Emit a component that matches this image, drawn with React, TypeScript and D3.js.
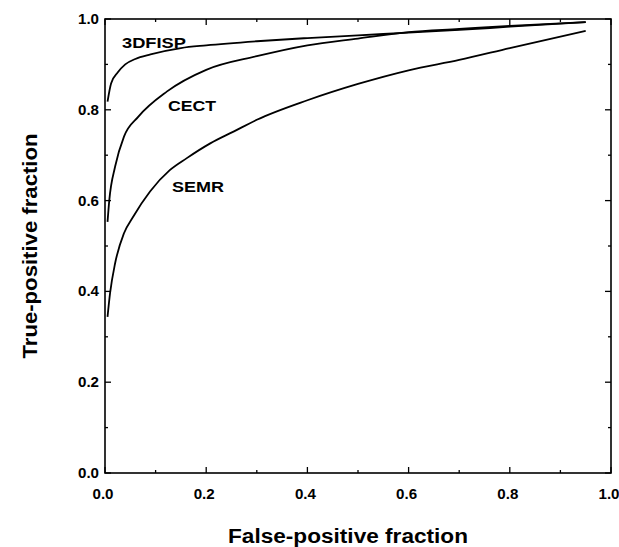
import { useRef, useEffect } from "react";
import * as d3 from "d3";

// ROC curves: [false-positive fraction, true-positive fraction]
const fisp3d: [number, number][] = [
  [0.005, 0.818], [0.012, 0.858], [0.025, 0.882], [0.04, 0.9], [0.06, 0.912],
  [0.09, 0.922], [0.15, 0.936], [0.2, 0.942], [0.3, 0.951], [0.4, 0.958],
  [0.5, 0.964], [0.6, 0.97], [0.7, 0.976], [0.8, 0.983], [0.95, 0.993],
];
const cect: [number, number][] = [
  [0.005, 0.553], [0.0085, 0.601], [0.02, 0.675], [0.0375, 0.741], [0.066, 0.785],
  [0.122, 0.84], [0.2, 0.888], [0.3, 0.918], [0.4, 0.942], [0.5, 0.957],
  [0.6, 0.971], [0.7, 0.978], [0.8, 0.985], [0.95, 0.993],
];
const semr: [number, number][] = [
  [0.005, 0.344], [0.01, 0.396], [0.02, 0.462], [0.0375, 0.528], [0.056, 0.565],
  [0.089, 0.62], [0.128, 0.667], [0.161, 0.693], [0.208, 0.726], [0.254, 0.752],
  [0.3, 0.778], [0.4, 0.821], [0.5, 0.857], [0.6, 0.887], [0.7, 0.91],
  [0.8, 0.936], [0.95, 0.974],
];

const curveNames = ["3DFISP", "CECT", "SEMR"];
const majorTicks = [0, 0.2, 0.4, 0.6, 0.8, 1.0];
const minorTicks = [0.1, 0.3, 0.5, 0.7, 0.9];

const FONT = "'Liberation Sans', Arial, Helvetica, sans-serif";

function App() {
  const svgRef = useRef<SVGSVGElement>(null);

  useEffect(() => {
    const w = 619;
    const h = 547;
    const svg = d3.select(svgRef.current).attr("width", w).attr("height", h);
    svg.selectAll("*").remove();

    // plot frame
    const left = 105;
    const right = 611;
    const top = 19;
    const bottom = 473;

    const x = d3.scaleLinear().domain([0, 1]).range([left, right]);
    const y = d3.scaleLinear().domain([0, 1]).range([bottom, top]);

    // ticks on all four sides, pointing inward
    const g = svg.append("g").attr("stroke", "#000").attr("stroke-width", 1.3);
    const addTicks = (vals: number[], len: number) => {
      vals.forEach((v) => {
        g.append("line").attr("x1", x(v)).attr("x2", x(v)).attr("y1", bottom).attr("y2", bottom - len);
        g.append("line").attr("x1", x(v)).attr("x2", x(v)).attr("y1", top).attr("y2", top + len);
        g.append("line").attr("x1", left).attr("x2", left + len).attr("y1", y(v)).attr("y2", y(v));
        g.append("line").attr("x1", right).attr("x2", right - len).attr("y1", y(v)).attr("y2", y(v));
      });
    };
    addTicks(majorTicks, 6);
    addTicks(minorTicks, 3);

    svg
      .append("rect")
      .attr("x", left)
      .attr("y", top)
      .attr("width", right - left)
      .attr("height", bottom - top)
      .attr("fill", "none")
      .attr("stroke", "#000")
      .attr("stroke-width", 1.6);

    // tick labels
    const fmt = d3.format(".1f");
    svg
      .append("g")
      .selectAll("text")
      .data(majorTicks)
      .enter()
      .append("text")
      .attr("x", (d) => x(d) - 2)
      .attr("y", 499)
      .attr("text-anchor", "middle")
      .attr("font-family", FONT)
      .attr("font-weight", "bold")
      .attr("font-size", 14)
      .attr("textLength", 21)
      .attr("lengthAdjust", "spacingAndGlyphs")
      .text((d) => fmt(d));

    svg
      .append("g")
      .selectAll("text")
      .data(majorTicks)
      .enter()
      .append("text")
      .attr("x", 99)
      .attr("y", (d) => y(d) + 5)
      .attr("text-anchor", "end")
      .attr("font-family", FONT)
      .attr("font-weight", "bold")
      .attr("font-size", 14)
      .attr("textLength", 21)
      .attr("lengthAdjust", "spacingAndGlyphs")
      .text((d) => fmt(d));

    // axis titles
    svg
      .append("text")
      .attr("x", 348)
      .attr("y", 543)
      .attr("text-anchor", "middle")
      .attr("font-family", FONT)
      .attr("font-weight", "bold")
      .attr("font-size", 19.5)
      .attr("textLength", 240)
      .attr("lengthAdjust", "spacingAndGlyphs")
      .text("False-positive fraction");

    svg
      .append("text")
      .attr("transform", "translate(37, 246) rotate(-90)")
      .attr("text-anchor", "middle")
      .attr("font-family", FONT)
      .attr("font-weight", "bold")
      .attr("font-size", 21)
      .attr("textLength", 225)
      .attr("lengthAdjust", "spacingAndGlyphs")
      .text("True-positive fraction");

    // curves
    const line = d3
      .line<[number, number]>()
      .x((d) => x(d[0]))
      .y((d) => y(d[1]))
      .curve(d3.curveMonotoneX);

    svg
      .append("g")
      .selectAll("path")
      .data([fisp3d, cect, semr])
      .enter()
      .append("path")
      .attr("d", (d) => line(d))
      .attr("fill", "none")
      .attr("stroke", "#000")
      .attr("stroke-width", 1.8);

    // curve labels
    const labelPos = [
      { x: 122, y: 48, len: 64 },
      { x: 168, y: 111, len: 48 },
      { x: 172, y: 191.5, len: 52 },
    ];
    svg
      .append("g")
      .selectAll("text")
      .data(curveNames)
      .enter()
      .append("text")
      .attr("x", (_, i) => labelPos[i].x)
      .attr("y", (_, i) => labelPos[i].y)
      .attr("font-family", FONT)
      .attr("font-weight", "bold")
      .attr("font-size", 15.5)
      .attr("textLength", (_, i) => labelPos[i].len)
      .attr("lengthAdjust", "spacingAndGlyphs")
      .text((d) => d);
  }, []);

  return (
    <svg
      ref={svgRef}
      style={{ position: "absolute", left: 0, top: 0, display: "block", background: "#fff" }}
    ></svg>
  );
}

export default App;
